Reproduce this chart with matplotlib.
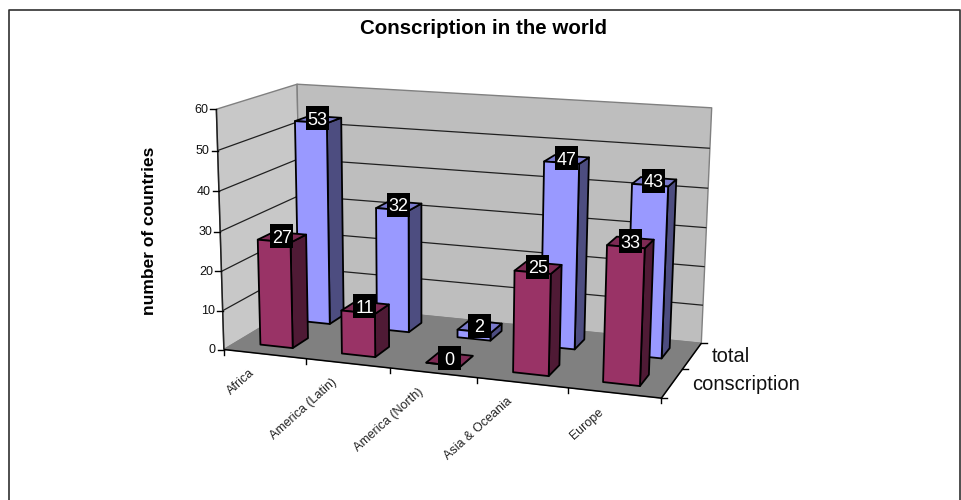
import numpy as np
import matplotlib
matplotlib.use("Agg")
import matplotlib.pyplot as plt
from matplotlib.patches import Rectangle

categories = ["Africa", "America (Latin)", "America (North)", "Asia & Oceania", "Europe"]
series_names = ["conscription", "total"]
conscription = [27, 11, 0, 25, 33]
total = [53, 32, 2, 47, 43]
z_ticks = [0, 10, 20, 30, 40, 50, 60]

plt.rcParams["font.family"] = ["Liberation Sans", "DejaVu Sans"]
W, H = 961, 500
fig = plt.figure(figsize=(W / 100, H / 100), dpi=100)
ax = fig.add_axes([0, 0, 1, 1])
ax.set_xlim(0, W)
ax.set_ylim(H, 0)
ax.axis("off")

# Camera calibration: model corners (category, series depth, value) -> pixel, with weight
nx, ny, zmax = len(categories), len(series_names), z_ticks[-1]
calib = [
    ((0, 0, 0), (226.7, 347.7), 1), ((0, 0, zmax), (216.0, 109.3), 3),
    ((0, ny, 0), (298.0, 305.0), 1), ((0, ny, zmax), (298.0, 84.0), 2),
    ((nx, ny, 0), (701.7, 342.0), 1), ((nx, ny, zmax), (711.0, 108.0), 1),
    ((nx, 0, 0), (661.7, 399.3), 1),
    ((1, 0, 0), (307.0, 358.0), 0.3), ((4, 0, 0), (567.0, 388.5), 0.3),
]
A, b = [], []
for (x, y, z), (u, v), wt in calib:
    z = z / 10
    A.append(np.array([x, y, z, 1, 0, 0, 0, 0, -u * x, -u * y, -u * z]) * wt); b.append(u * wt)
    A.append(np.array([0, 0, 0, 0, x, y, z, 1, -v * x, -v * y, -v * z]) * wt); b.append(v * wt)
m = np.linalg.lstsq(np.array(A), np.array(b), rcond=None)[0]
P = np.append(m, 1).reshape(3, 4)


def proj(x, y, z):
    h = P @ np.array([x, y, z / 10, 1.0])
    return h[0] / h[2], h[1] / h[2]


def face(pts, fc, ec="black", lw=1.3, zo=2):
    xy = [proj(*p) for p in pts]
    ax.fill([q[0] for q in xy], [q[1] for q in xy], facecolor=fc, edgecolor=ec,
            linewidth=lw, joinstyle="round", zorder=zo)


def line(p, q, color="black", lw=1.0, zo=2):
    a, c = proj(*p), proj(*q)
    ax.plot([a[0], c[0]], [a[1], c[1]], color=color, lw=lw, zorder=zo,
            solid_capstyle="butt")


# Frame
ax.plot([8.5, 8.5, 959.5, 959.5], [H + 5, 10, 10, H + 5], color="#303030", lw=1.2, zorder=1)

# Walls and floor
face([(0, 0, 0), (0, ny, 0), (0, ny, zmax), (0, 0, zmax)], "#C8C8C8", "#808080", 1.0, 1.5)
face([(0, ny, 0), (nx, ny, 0), (nx, ny, zmax), (0, ny, zmax)], "#BEBEBE", "#808080", 1.0, 1.5)
face([(0, 0, 0), (nx, 0, 0), (nx, ny, 0), (0, ny, 0)], "#808080", "#808080", 0.8, 1.6)

# Gridlines
for t in z_ticks[1:-1]:
    line((0, 0, t), (0, ny, t), "#202020", 0.9, 1.7)
    line((0, ny, t), (nx, ny, t), "#202020", 0.9, 1.7)

# Axis lines and ticks
line((0, 0, 0), (0, 0, zmax), "#202020", 1.1, 1.8)
line((0, 0, 0), (nx, 0, 0), "black", 1.1, 1.8)
line((nx, 0, 0), (nx, ny, 0), "black", 1.1, 1.8)
for t in z_ticks:
    u, v = proj(0, 0, t)
    ax.plot([u - 6, u], [v, v], color="black", lw=1.0, zorder=1.8)
    ax.text(u - 8, v + 0.5, str(t), ha="right", va="center", fontsize=9, color="#111111")
for i in range(nx + 1):
    u, v = proj(i, 0, 0)
    ax.plot([u, u], [v, v + 5], color="black", lw=1.0, zorder=1.8)
for j in range(ny + 1):
    u, v = proj(nx, j, 0)
    ax.plot([u, u + 6], [v, v], color="black", lw=1.0, zorder=1.8)

# Category labels
for i, c in enumerate(categories):
    u, v = proj(i + 0.5, 0, 0)
    ax.text(u - 16, v + 13, c, rotation=42, rotation_mode="anchor", ha="right", va="top",
            fontsize=9, color="#222222")

# Series labels
for j, s in enumerate(series_names):
    u, v = proj(nx, j + 0.5, 0)
    ax.text(u + 20, v + 1, s, ha="left", va="center", fontsize=14.5, color="#111111")

# Bars, back row first
rows = [
    (1, total, "#9999FF", "#4D4D80", "#7A7ACC"),
    (0, conscription, "#993366", "#4F1A35", "#7D2A54"),
]
w0, w1 = 0.3, 0.7
for j, vals, front, side, top in rows:
    y0, y1 = j + w0, j + w1
    for i, val in enumerate(vals):
        x0, x1 = i + w0, i + w1
        zo = 3 + (1 - j) * 2
        face([(x1, y0, 0), (x1, y1, 0), (x1, y1, val), (x1, y0, val)], side, zo=zo)
        face([(x0, y0, val), (x1, y0, val), (x1, y1, val), (x0, y1, val)], top, zo=zo)
        face([(x0, y0, 0), (x1, y0, 0), (x1, y0, val), (x0, y0, val)], front, zo=zo)
        u, v = proj(i + 0.5, j + 0.5, val)
        u -= 0.5
        v -= 1
        ax.add_patch(Rectangle((u - 11.5, v - 12), 23, 24, facecolor="black", edgecolor="none", zorder=10))
        ax.text(u, v, str(val), ha="center", va="center_baseline", fontsize=13, color="white", zorder=11)

ax.text(484, 28, "Conscription in the world", ha="center", va="center", fontsize=14.8,
        fontweight="bold", color="black")
ax.text(149, 231, "number of countries", rotation=90, ha="center", va="center", fontsize=12.5,
        fontweight="bold", color="black")

fig.savefig("out.png", dpi=100)
